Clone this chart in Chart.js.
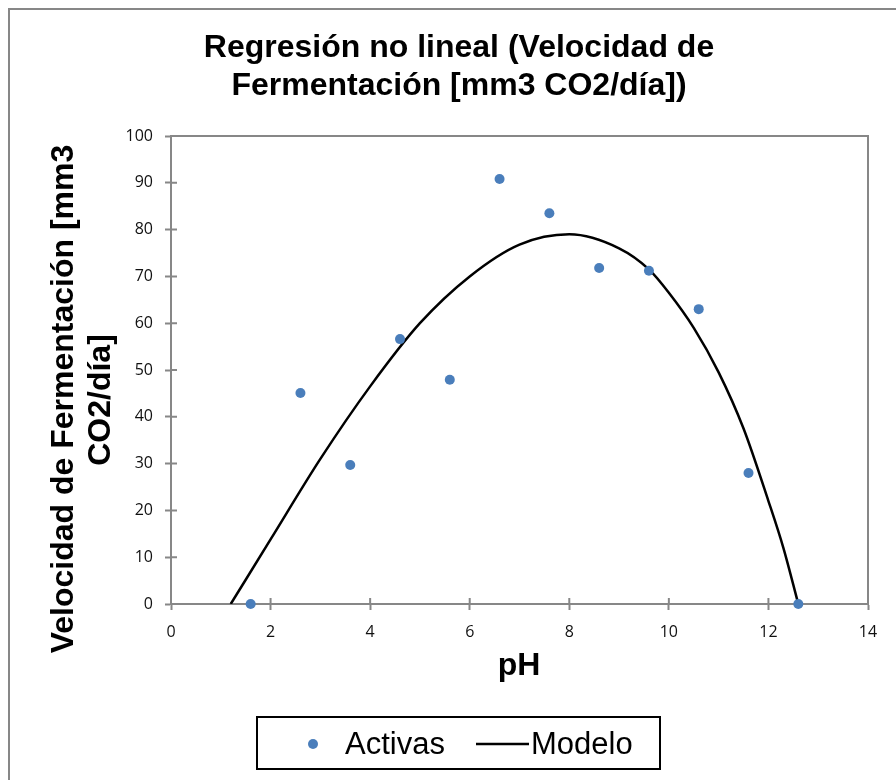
<!DOCTYPE html>
<html lang="es">
<head>
<meta charset="UTF-8">
<title>Regresión no lineal</title>
<script src="https://cdn.jsdelivr.net/npm/chart.js"></script>
<style>
  body { margin: 0; background: #fff; }
  #wrap { width: 896px; height: 780px; }
</style>
</head>
<body>
<div id="wrap"><canvas id="grafico" width="896" height="780"></canvas></div>
<script>
// Datos medidos (Activas)
const phActivas = [1.6, 2.6, 3.6, 4.6, 5.6, 6.6, 7.6, 8.6, 9.6, 10.6, 11.6, 12.6];
const velActivas = [0, 45.1, 29.7, 56.6, 47.9, 90.8, 83.5, 71.8, 71.2, 63.0, 28.0, 0];

// Curva del modelo
const phModelo = [1.2, 2, 3, 4, 5, 6, 7, 8, 9, 9.6, 10, 10.5, 11, 11.5, 12, 12.3, 12.6];
const velModelo = [0, 13.8, 31, 46.5, 60, 70, 76.8, 79, 76, 71.5, 66.5, 59, 49.5, 37.5, 22, 12, 0];

// Ejes
const xLimites = [0, 14];
const xPaso = 2;
const yLimites = [0, 100];
const yPaso = 10;

const tituloLineas = ['Regresión no lineal (Velocidad de', 'Fermentación [mm3 CO2/día])'];
const tituloX = 'pH';
const tituloY = ['Velocidad de Fermentación [mm3', 'CO2/día]'];
const nombres = ['Activas', 'Modelo'];

const azul = '#4a7ebb';
const gris = '#878787';
const fuenteNegrita = 'bold 32px "Liberation Sans", Arial, sans-serif';

const decoracion = {
    id: 'decoracion',
    beforeDraw(chart) {
        const ctx = chart.ctx;
        ctx.save();
        ctx.fillStyle = '#fff';
        ctx.fillRect(0, 0, chart.width, chart.height);
        // borde exterior del gráfico
        ctx.strokeStyle = gris;
        ctx.lineWidth = 2;
        ctx.strokeRect(9, 9, chart.width + 20, chart.height + 20);
        ctx.restore();
    },
    beforeDatasetsDraw(chart) {
        const ctx = chart.ctx;
        const a = chart.chartArea;
        ctx.save();
        ctx.strokeStyle = gris;
        ctx.lineWidth = 2;
        // marco del área de trazado (arriba y derecha)
        ctx.beginPath();
        ctx.moveTo(a.left, a.top);
        ctx.lineTo(a.right, a.top);
        ctx.lineTo(a.right, a.bottom);
        ctx.stroke();
        // marcas hacia dentro
        ctx.beginPath();
        chart.scales.x.ticks.forEach(t => {
            const px = chart.scales.x.getPixelForValue(t.value);
            ctx.moveTo(px, a.bottom);
            ctx.lineTo(px, a.bottom - 6);
        });
        chart.scales.y.ticks.forEach(t => {
            const py = chart.scales.y.getPixelForValue(t.value);
            ctx.moveTo(a.left, py);
            ctx.lineTo(a.left + 6, py);
        });
        ctx.stroke();
        ctx.restore();
    },
    afterDraw(chart) {
        const ctx = chart.ctx;
        ctx.save();
        ctx.fillStyle = '#000';
        ctx.font = fuenteNegrita;
        ctx.textAlign = 'center';
        ctx.textBaseline = 'middle';
        // título
        ctx.fillText(tituloLineas[0], 459, 48);
        ctx.fillText(tituloLineas[1], 459, 86);
        // título eje X
        ctx.fillText(tituloX, 519, 666);
        // título eje Y
        ctx.save();
        ctx.translate(64, 399);
        ctx.rotate(-Math.PI / 2);
        ctx.fillText(tituloY[0], 0, 0);
        ctx.restore();
        ctx.save();
        ctx.translate(101, 400);
        ctx.rotate(-Math.PI / 2);
        ctx.fillText(tituloY[1], 0, 0);
        ctx.restore();

        // leyenda
        ctx.strokeStyle = '#000';
        ctx.lineWidth = 2;
        ctx.strokeRect(257, 717, 403, 52);
        ctx.fillStyle = azul;
        ctx.beginPath();
        ctx.arc(313, 744, 5, 0, Math.PI * 2);
        ctx.fill();
        ctx.strokeStyle = '#000';
        ctx.lineWidth = 2.5;
        ctx.beginPath();
        ctx.moveTo(476, 744);
        ctx.lineTo(529, 744);
        ctx.stroke();
        ctx.fillStyle = '#000';
        ctx.font = '31px "Liberation Sans", Arial, sans-serif';
        ctx.textAlign = 'left';
        ctx.fillText(nombres[0], 345, 745);
        ctx.fillText(nombres[1], 531, 745);
        ctx.restore();
    }
};

const ticksFuente = { family: '"Open Sans", sans-serif', size: 16 };

new Chart(document.getElementById('grafico'), {
    type: 'scatter',
    data: {
        datasets: [
            {
                label: nombres[0],
                data: phActivas.map((x, i) => ({ x: x, y: velActivas[i] })),
                backgroundColor: azul,
                borderWidth: 0,
                pointRadius: 5,
                clip: false,
                order: 1
            },
            {
                label: nombres[1],
                type: 'line',
                data: phModelo.map((x, i) => ({ x: x, y: velModelo[i] })),
                borderColor: '#000',
                borderWidth: 2.5,
                pointRadius: 0,
                fill: false,
                cubicInterpolationMode: 'monotone',
                order: 2
            }
        ]
    },
    options: {
        responsive: false,
        animation: false,
        layout: { padding: { top: 136, right: 28, left: 0, bottom: 0 } },
        plugins: {
            legend: { display: false },
            title: { display: false },
            tooltip: { enabled: false }
        },
        scales: {
            x: {
                type: 'linear',
                min: xLimites[0],
                max: xLimites[1],
                ticks: { stepSize: xPaso, color: '#111', font: ticksFuente, padding: 13 },
                grid: { drawOnChartArea: false, drawTicks: true, tickLength: 6, color: gris, tickWidth: 2 },
                border: { display: true, color: gris, width: 2 },
                afterFit(s) { s.height = 176; }
            },
            y: {
                min: yLimites[0],
                max: yLimites[1],
                ticks: { stepSize: yPaso, color: '#111', font: ticksFuente, padding: 12 },
                grid: { drawOnChartArea: false, drawTicks: true, tickLength: 6, color: gris, tickWidth: 2 },
                border: { display: true, color: gris, width: 2 },
                afterFit(s) { s.width = 171; }
            }
        }
    },
    plugins: [decoracion]
});
</script>
</body>
</html>
